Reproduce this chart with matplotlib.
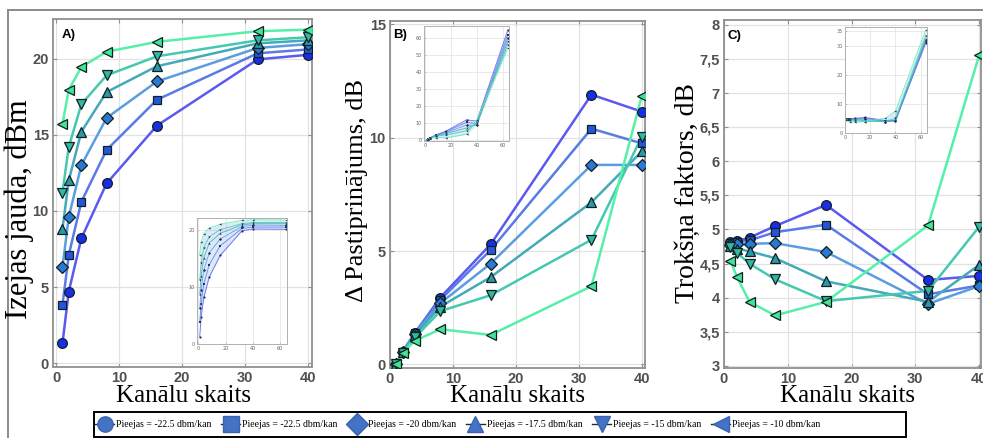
import matplotlib
matplotlib.use("Agg")
import matplotlib.pyplot as plt
from matplotlib.lines import Line2D
from matplotlib.patches import Rectangle
import numpy as np

W, H = 983, 438

# ---------------- data ----------------
channels = [1, 2, 4, 8, 16, 32, 40]
channels_inset = [1, 2, 4, 8, 16, 32, 40, 64]

legend_labels = ["Pieejas = -22.5 dbm/kan", "Pieejas = -22.5 dbm/kan",
                 "Pieejas = -20 dbm/kan", "Pieejas = -17.5 dbm/kan",
                 "Pieejas = -15 dbm/kan", "Pieejas = -10 dbm/kan"]

# A) output power, dBm
power_m225a = [1.3, 4.7, 8.2, 11.8, 15.6, 19.95, 20.25]
power_m225b = [3.8, 7.1, 10.6, 14.0, 17.3, 20.35, 20.6]
power_m20 = [6.3, 9.6, 13.0, 16.1, 18.5, 20.7, 20.95]
power_m175 = [8.8, 12.0, 15.2, 17.8, 19.5, 21.0, 21.2]
power_m15 = [11.2, 14.2, 17.0, 18.9, 20.15, 21.2, 21.4]
power_m10 = [15.7, 17.95, 19.45, 20.45, 21.1, 21.8, 21.9]
power_64 = [20.2, 20.6, 20.9, 21.2, 21.4, 21.85]

# B) gain change, dB
gain_m225a = [0.0, 0.55, 1.4, 2.95, 5.3, 11.9, 11.15]
gain_m225b = [0.0, 0.55, 1.4, 2.85, 5.05, 10.4, 9.75]
gain_m20 = [0.0, 0.55, 1.35, 2.7, 4.45, 8.8, 8.8]
gain_m175 = [0.0, 0.55, 1.3, 2.55, 3.85, 7.15, 9.4]
gain_m15 = [0.0, 0.5, 1.2, 2.35, 3.05, 5.5, 10.05]
gain_m10 = [0.0, 0.5, 1.05, 1.55, 1.3, 3.45, 11.85]
gain_64 = [64.5, 62.0, 60.0, 58.0, 56.0, 54.0]

# C) noise figure, dB
nf_m225a = [4.81, 4.83, 4.88, 5.05, 5.36, 4.26, 4.32]
nf_m225b = [4.80, 4.81, 4.84, 4.96, 5.07, 4.05, 4.18]
nf_m20 = [4.77, 4.78, 4.79, 4.80, 4.67, 3.91, 4.17]
nf_m175 = [4.76, 4.72, 4.68, 4.58, 4.24, 3.94, 4.48]
nf_m15 = [4.75, 4.66, 4.50, 4.27, 3.95, 4.10, 5.04]
nf_m10 = [4.54, 4.31, 3.94, 3.74, 3.94, 5.06, 7.55]
nf_64 = [31.0, 31.5, 32.0, 32.5, 33.5, 35.5]

power = [power_m225a, power_m225b, power_m20, power_m175, power_m15, power_m10]
gain = [gain_m225a, gain_m225b, gain_m20, gain_m175, gain_m15, gain_m10]
nf = [nf_m225a, nf_m225b, nf_m20, nf_m175, nf_m15, nf_m10]

# ---------------- style ----------------
markers = ["o", "s", "D", "^", "v", "<"]
msizes = [7, 6, 6, 7, 7, 7]
line_cols = ["#5a5af0", "#5a7ae6", "#5a9de0", "#45aab8", "#45c8b0", "#55f0a8"]
face_cols = ["#1a2ee6", "#2456dc", "#2a78d2", "#2a98a8", "#30b8a0", "#40e696"]

fig = plt.figure(figsize=(W / 100, H / 100), dpi=100)
fig.patch.set_facecolor("white")


def rect(l, r, t, b):
    return [l / W, 1 - b / H, (r - l) / W, (b - t) / H]


def style_main(ax, xlim, ylim, yticks, yticklabels=None):
    ax.set_xlim(*xlim)
    ax.set_ylim(*ylim)
    ax.set_xticks([0, 10, 20, 30, 40])
    ax.set_yticks(yticks)
    if yticklabels is not None:
        ax.set_yticklabels(yticklabels)
    ax.grid(True, color="#e2e2e2", lw=0.9)
    ax.set_axisbelow(True)
    for s in ax.spines.values():
        s.set_color("#909090")
        s.set_linewidth(1.3)
    ax.tick_params(direction="in", length=3, width=0.8, color="#909090",
                   top=True, right=True, labelsize=10.5, labelcolor="#505050",
                   pad=3)
    for lab in ax.get_xticklabels() + ax.get_yticklabels():
        lab.set_fontfamily("Liberation Sans")
        lab.set_fontweight("bold")


def plot_series(ax, data):
    for i, ys in enumerate(data):
        ax.plot(channels, ys, color=line_cols[i], lw=1.8, zorder=2)
        ax.plot(channels, ys, linestyle="none", marker=markers[i],
                markersize=msizes[i], markerfacecolor=face_cols[i],
                markeredgecolor="#102020", markeredgewidth=0.9, zorder=3)


def inset(axr, data, extra, xlim, ylim, yticks):
    ia = fig.add_axes(axr)
    ys_all = [list(d) + [e] for d, e in zip(data, extra)]
    lo = np.min(np.array(ys_all), axis=0)
    hi = np.max(np.array(ys_all), axis=0)
    ia.fill_between(channels_inset, lo, hi, color="#8fb8e8", alpha=0.3, lw=0)
    for i, ys in enumerate(ys_all):
        ia.plot(channels_inset, ys, color=line_cols[i], lw=0.7, alpha=0.8)
        ia.plot(channels_inset, ys, linestyle="none", marker=markers[i],
                markersize=1.6, color="#203060", markeredgewidth=0)
    ia.set_xlim(*xlim)
    ia.set_ylim(*ylim)
    ia.set_xticks([0, 20, 40, 60])
    ia.set_yticks(yticks)
    ia.grid(True, color="#e6e6e6", lw=0.6)
    ia.set_axisbelow(True)
    for s in ia.spines.values():
        s.set_color("#b0b0b0")
        s.set_linewidth(0.7)
    ia.tick_params(direction="in", length=1.5, width=0.5, labelsize=3.5,
                   labelcolor="#666666", pad=1.5, colors="#b0b0b0")
    for lab in ia.get_xticklabels() + ia.get_yticklabels():
        lab.set_color("#666666")
    return ia


# ---- Panel A ----
axA = fig.add_axes(rect(53, 312, 19, 367))
plot_series(axA, power)
style_main(axA, (-0.5, 40.6), (-0.25, 22.6), [0, 5, 10, 15, 20])
axA.text(0.035, 0.955, "A)", transform=axA.transAxes, fontsize=9.5,
         fontweight="bold", ha="left", va="center", family="Liberation Sans")
inset(rect(197, 287, 218, 344), power, power_64, (-1, 65), (0, 22.2), [0, 10, 20])

# ---- Panel B ----
axB = fig.add_axes(rect(390, 645, 21, 368))
plot_series(axB, gain)
style_main(axB, (0, 40.5), (-0.16, 15.15), [0, 5, 10, 15])
axB.text(0.012, 0.96, "B)", transform=axB.transAxes, fontsize=9.5,
         fontweight="bold", ha="left", va="center", family="Liberation Sans")
inset(rect(424, 509, 26, 141), gain, gain_64, (-1, 65), (-0.5, 67),
      [0, 10, 20, 30, 40, 50, 60])

# ---- Panel C ----
axC = fig.add_axes(rect(724, 981, 20, 368))
plot_series(axC, nf)
c_ticks = [3, 3.5, 4, 4.5, 5, 5.5, 6, 6.5, 7, 7.5, 8]
style_main(axC, (0, 40.3), (2.97, 8.07), c_ticks,
           [("%g" % v).replace(".", ",") for v in c_ticks])
axC.text(0.012, 0.955, "C)", transform=axC.transAxes, fontsize=9.5,
         fontweight="bold", ha="left", va="center", family="Liberation Sans")
inset(rect(845, 927, 27, 133), nf, nf_64, (0, 65), (0, 36.5), [0, 10, 20, 30, 35])

# ---- axis titles (serif) ----
serif = "Liberation Serif"
fig.text(19 / W, 1 - 209 / H, "Izejas jauda, dBm", rotation=90, ha="center",
         va="center", fontsize=22, family=serif)
fig.text(357 / W, 1 - 191 / H, "Δ Pastiprinājums, dB", rotation=90, ha="center",
         va="center", fontsize=19, family=serif)
fig.text(687 / W, 1 - 193 / H, "Trokšņa faktors, dB", rotation=90, ha="center",
         va="center", fontsize=20, family=serif)
for cx in (183, 517, 848):
    fig.text(cx / W, 1 - 396 / H, "Kanālu skaits", ha="center", va="center",
             fontsize=18, family=serif)

# ---- outer frame ----
fig.add_artist(Line2D([8 / W, 8 / W], [0, 1 - 10 / H], transform=fig.transFigure,
                      color="#8a8a8a", lw=1.4))
fig.add_artist(Line2D([8 / W, 1], [1 - 10 / H, 1 - 10 / H], transform=fig.transFigure,
                      color="#8a8a8a", lw=1.4))

# ---- legend ----
box = Rectangle((94 / W, 1 - 437 / H), 812 / W, 25 / H, transform=fig.transFigure,
                facecolor="white", edgecolor="black", lw=1.4)
fig.add_artist(box)
handles = [Line2D([0], [0], color="#1a2a40", lw=1.0, marker=m, markersize=11,
                  markerfacecolor="#4472c4", markeredgecolor="#3a62b0")
           for m in markers]
leg = fig.legend(handles, legend_labels, ncol=6, loc="center left",
                 bbox_to_anchor=(95 / W, 1 - 424.5 / H),
                 frameon=False, handlelength=2.0, handletextpad=0.15,
                 columnspacing=1.0, prop={"family": serif, "size": 7},
                 borderaxespad=0, borderpad=0)

fig.savefig("out.png", dpi=100, facecolor="white")
